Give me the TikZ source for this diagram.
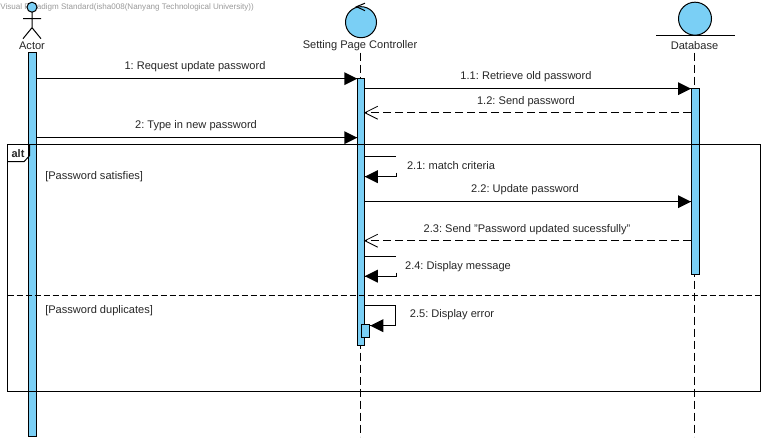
\documentclass[tikz,border=0pt]{standalone}
\usepackage{fontspec}
\setmainfont{Liberation Sans}
\definecolor{barblue}{RGB}{122,207,245}
\tikzset{
	actbar/.style={draw, fill=barblue, line width=0.75pt, inner sep=0pt, minimum width=#1*0.75pt},
	msglabel/.style={font=\fontsize{8.3pt}{10pt}\selectfont\frenchspacing, text=black!85, inner sep=0pt, yshift=-0.75pt},
	headtip/.style={fill=black, draw opacity=0},
	opentip/.style={line width=0.6pt},
	lifeline/.style={line width=0.75pt, dash pattern=on 6pt off 3pt},
	msgline/.style={line width=0.75pt},
	msgdash/.style={line width=0.75pt, dash pattern=on 6pt off 3pt}
}

\begin{document}
\begin{tikzpicture}[x=0.75pt,y=0.75pt,yscale=-1,xscale=1]
	\useasboundingbox (0,-0.7) rectangle (764,440.3);
	\node [font=\fontsize{6.05pt}{7pt}\selectfont, text=black!40, inner sep=0pt, anchor=west] (mark) at (0,7) {Visual Paradigm Standard(isha008(Nanyang Technological University))};
	% lifelines
	\draw [lifeline] (360.5,52) -- (360.5,436) ;
	\draw [lifeline] (694.5,52) -- (694.5,436) ;
	% actor
	\draw [fill=barblue, line width=0.75pt] (32,6.5) circle (5) ;
	\draw [line width=0.75pt] (32,11.5) -- (32,27) (23,18) -- (41,18) (23,38) -- (32,27) -- (41,38) ;
	\node [msglabel] (actorname) at (32,44) {Actor};
	% controller
	\draw [fill=barblue, line width=0.75pt] (361,21.5) circle (15.5) ;
	\draw [line width=0.75pt] (365,2.5) -- (356.5,6) -- (365,10) ;
	\node [msglabel] (ctrlname) at (360,44) {Setting Page Controller};
	% database
	\draw [fill=barblue, line width=0.75pt] (695,18) circle (16.5) ;
	\draw [line width=0.75pt] (656,35) -- (735,35) ;
	\node [msglabel] (dbname) at (694.5,44) {Database};
	% activation bars
	\node [actbar=8, minimum height=288pt] (actorbar) at (32.5,244) {};
	\node [actbar=6.5, minimum height=200.25pt] (ctrlbar) at (361,211.5) {};
	\node [actbar=8, minimum height=139.5pt] (dbbar) at (695.5,181) {};
	\node [actbar=8.5, minimum height=9.75pt] (selfbar) at (365.5,330.5) {};
	% alt frame
	\draw [line width=0.75pt] (7.5,144) rectangle (760.5,391) ;
	\draw [line width=0.75pt] (7.5,161) -- (24,161) -- (29.5,155) -- (29.5,144) ;
	\draw [line width=0.75pt, dash pattern=on 4.5pt off 2.25pt] (7.5,295) -- (760.5,295) ;
	\node [font=\fontsize{8.25pt}{10pt}\bfseries\selectfont, text=black!85, inner sep=0pt] (altname) at (18,152.5) {alt};
	\node [msglabel, anchor=west] (guardone) at (45,175) {[Password satisfies]};
	\node [msglabel, anchor=west] (guardtwo) at (45,309) {[Password duplicates]};
	% 1
	\draw [msgline] (actorbar.east |- 0,78) -- (ctrlbar.west |- 0,78) ;
	\draw [shift={(ctrlbar.west |- 0,78)}, rotate = 180] [headtip] (13,-6.5) -- (0,0) -- (13,6.5) -- cycle ;
	\node [msglabel] (msgone) at (195,65) {1: Request update password};
	% 1.1
	\draw [msgline] (ctrlbar.east |- 0,88) -- (dbbar.west |- 0,88) ;
	\draw [shift={(dbbar.west |- 0,88)}, rotate = 180] [headtip] (13,-6.5) -- (0,0) -- (13,6.5) -- cycle ;
	\node [msglabel] (msgoneone) at (526,75) {1.1: Retrieve old password};
	% 1.2
	\draw [msgdash] (dbbar.west |- 0,112) -- (ctrlbar.east |- 0,112) ;
	\draw [shift={(ctrlbar.east |- 0,112)}] [opentip] (13,-6.5) -- (0,0) -- (13,6.5) ;
	\node [msglabel] (msgonetwo) at (526,100) {1.2: Send password};
	% 2
	\draw [msgline] (actorbar.east |- 0,137) -- (ctrlbar.west |- 0,137) ;
	\draw [shift={(ctrlbar.west |- 0,137)}, rotate = 180] [headtip] (13,-6.5) -- (0,0) -- (13,6.5) -- cycle ;
	\node [msglabel] (msgtwo) at (196,124) {2: Type in new password};
	% 2.1
	\draw [msgline] (ctrlbar.east |- 0,156) -- (396,156) ;
	\draw [msgline] (396,172) -- (396,176) -- (ctrlbar.east |- 0,176) ;
	\draw [shift={(ctrlbar.east |- 0,176)}] [headtip] (13,-6.5) -- (0,0) -- (13,6.5) -- cycle ;
	\node [msglabel] (msgtwoone) at (451,164) {2.1: match criteria};
	% 2.2
	\draw [msgline] (ctrlbar.east |- 0,201) -- (dbbar.west |- 0,201) ;
	\draw [shift={(dbbar.west |- 0,201)}, rotate = 180] [headtip] (13,-6.5) -- (0,0) -- (13,6.5) -- cycle ;
	\node [msglabel] (msgtwotwo) at (525,188) {2.2: Update password};
	% 2.3
	\draw [msgdash] (dbbar.west |- 0,240) -- (ctrlbar.east |- 0,240) ;
	\draw [shift={(ctrlbar.east |- 0,240)}] [opentip] (13,-6.5) -- (0,0) -- (13,6.5) ;
	\node [msglabel] (msgtwothree) at (527,228) {2.3: Send "Password updated sucessfully"};
	% 2.4
	\draw [msgline] (ctrlbar.east |- 0,256) -- (396,256) ;
	\draw [msgline] (396,272) -- (396,275.5) -- (ctrlbar.east |- 0,275.5) ;
	\draw [shift={(ctrlbar.east |- 0,275.5)}] [headtip] (13,-6.5) -- (0,0) -- (13,6.5) -- cycle ;
	\node [msglabel] (msgtwofour) at (458,265) {2.4: Display message};
	% 2.5
	\draw [msgline] (ctrlbar.east |- 0,305) -- (395,305) -- (395,325) -- (selfbar.east |- 0,325) ;
	\draw [shift={(selfbar.east |- 0,325)}] [headtip] (13,-6.5) -- (0,0) -- (13,6.5) -- cycle ;
	\node [msglabel] (msgtwofive) at (452,313) {2.5: Display error};
\end{tikzpicture}
\end{document}
